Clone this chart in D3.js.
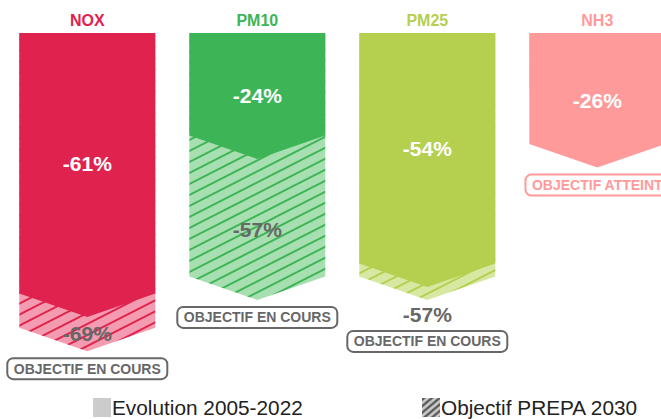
<!DOCTYPE html>
<html>
<head>
<meta charset="utf-8">
<script src="https://cdn.jsdelivr.net/npm/d3@7"></script>
<style>
  html, body { margin: 0; padding: 0; background: #fff; }
  svg { display: block; font-family: "Liberation Sans", Arial, sans-serif; }
</style>
</head>
<body>
<div id="chart"></div>
<script>
// Data
const pollutants = ['NOX', 'PM10', 'PM25', 'NH3'];
const evolution = [-61, -24, -54, -26];      // Evolution 2005-2022
const objective = [-69, -57, -57, -13];      // Objectif PREPA 2030
const status = ['OBJECTIF EN COURS', 'OBJECTIF EN COURS', 'OBJECTIF EN COURS', 'OBJECTIF ATTEINT'];
const mainColors = ['#e0234e', '#3db456', '#b5cf4f', '#ff9a9a'];
const lightColors = ['#f39bb0', '#a8dfb1', '#d6e8a1', '#ffd0d0'];
const legendLabels = ['Evolution 2005-2022', 'Objectif PREPA 2030'];

const width = 661;
const height = 419;
const tip = 23.5;
const grey = '#676767';

const svg = d3.select('#chart').append('svg')
  .attr('width', width)
  .attr('height', height);

const defs = svg.append('defs');

// hatch patterns
function hatch(id, bg, stroke, size, angle) {
  const p = defs.append('pattern')
    .attr('id', id)
    .attr('patternUnits', 'userSpaceOnUse')
    .attr('width', size)
    .attr('height', size)
    .attr('patternTransform', `rotate(${angle})`);
  p.append('rect').attr('width', size).attr('height', size).attr('fill', bg);
  p.append('line')
    .attr('x1', 0).attr('x2', size)
    .attr('y1', size / 2).attr('y2', size / 2)
    .attr('stroke', stroke)
    .attr('stroke-width', 2);
}
pollutants.forEach((p, i) => hatch('hatch-' + i, lightColors[i], mainColors[i], 9.8, -27));
hatch('hatch-legend', '#cccccc', '#444', 5, -40);

// Scales
const x = d3.scaleBand()
  .domain(pollutants)
  .range([2.3, 682.3])
  .paddingInner(0.2)
  .paddingOuter(0.1);

const y = d3.scaleLinear()
  .domain([0, -100])
  .range([33, 460]);

function arrow(name, v) {
  const x0 = x(name), x1 = x0 + x.bandwidth(), xc = x0 + x.bandwidth() / 2;
  const yv = y(v);
  return `M${x0},${y(0)}L${x1},${y(0)}L${x1},${yv}L${xc},${yv + tip}L${x0},${yv}Z`;
}

const rows = pollutants.map((p, i) => ({
  name: p, evo: evolution[i], obj: objective[i], status: status[i], i
}));

const g = svg.append('g');

// Objective shapes (hatched, underneath)
g.selectAll('.obj')
  .data(rows)
  .enter()
  .append('path')
  .attr('class', 'obj')
  .attr('d', d => arrow(d.name, d.obj))
  .attr('fill', d => `url(#hatch-${d.i})`);

// Evolution shapes
g.selectAll('.evo')
  .data(rows)
  .enter()
  .append('path')
  .attr('class', 'evo')
  .attr('d', d => arrow(d.name, d.evo))
  .attr('fill', d => mainColors[d.i]);

// Titles
g.selectAll('.title')
  .data(rows)
  .enter()
  .append('text')
  .attr('x', d => x(d.name) + x.bandwidth() / 2)
  .attr('y', 26)
  .attr('text-anchor', 'middle')
  .attr('font-size', '16px')
  .attr('font-weight', 'bold')
  .attr('fill', d => mainColors[d.i])
  .text(d => d.name);

// Evolution labels
g.selectAll('.evo-label')
  .data(rows)
  .enter()
  .append('text')
  .attr('x', d => x(d.name) + x.bandwidth() / 2)
  .attr('y', d => {
    const bottom = y(d.evo) + (d.evo > -30 ? tip : 0);
    return (y(0) + bottom) / 2;
  })
  .attr('dy', '0.35em')
  .attr('text-anchor', 'middle')
  .attr('font-size', '21px')
  .attr('font-weight', 'bold')
  .attr('fill', '#fff')
  .text(d => `${d.evo}%`);

// Objective labels + badges
rows.forEach(d => {
  const cx = x(d.name) + x.bandwidth() / 2;
  let bottom;
  if (d.obj < d.evo) {
    const gap = d.evo - d.obj;
    let ly;
    if (gap > 5) {
      ly = (y(d.evo) + y(d.obj)) / 2 + tip;
      bottom = y(d.obj) + tip;
    } else {
      ly = y(d.obj) + tip + 15;
      bottom = ly + 9;
    }
    g.append('text')
      .attr('x', cx)
      .attr('y', ly)
      .attr('dy', '0.35em')
      .attr('text-anchor', 'middle')
      .attr('font-size', '21px')
      .attr('font-weight', 'bold')
      .attr('fill', grey)
      .text(`${d.obj}%`);
  } else {
    bottom = y(d.evo) + tip;
  }

  const badgeColor = d.obj < d.evo ? grey : mainColors[d.i];
  const badge = g.append('g').attr('transform', `translate(${cx},${bottom + 17.5})`);
  const rect = badge.append('rect');
  const t = badge.append('text')
    .attr('text-anchor', 'middle')
    .attr('dy', '0.36em')
    .attr('font-size', '14px')
    .attr('font-weight', 'bold')
    .attr('fill', badgeColor)
    .text(d.status);
  const w = t.node().getComputedTextLength() + 13;
  rect.attr('x', -w / 2).attr('y', -10.5)
    .attr('width', w).attr('height', 21)
    .attr('rx', 6)
    .attr('fill', '#fff')
    .attr('stroke', badgeColor)
    .attr('stroke-width', 2);
});

// Legend
const legend = svg.append('g');
const legendX = [93, 422];
legendLabels.forEach((label, i) => {
  legend.append('rect')
    .attr('x', legendX[i])
    .attr('y', 398)
    .attr('width', 18)
    .attr('height', 19)
    .attr('fill', i === 0 ? '#cccccc' : 'url(#hatch-legend)');
  legend.append('text')
    .attr('x', legendX[i] + 19)
    .attr('y', 415)
    .attr('font-size', '20.8px')
    .attr('fill', '#222')
    .text(label);
});
</script>
</body>
</html>
